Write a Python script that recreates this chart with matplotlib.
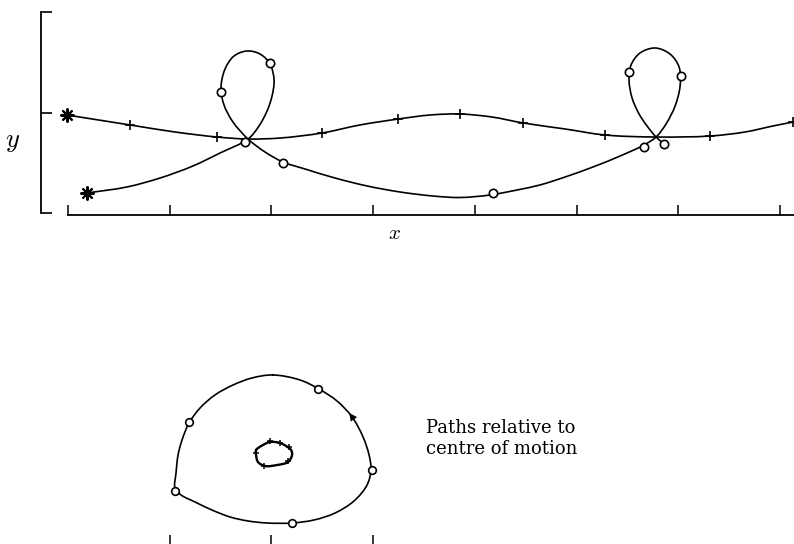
import matplotlib.pyplot as plt
import numpy as np
from matplotlib.path import Path
from matplotlib.patches import PathPatch

plt.rcParams['mathtext.fontset'] = 'cm'

# lighter body (+) in the lab frame, x/y in axis units
light_x = [-0.010, 0.610, 1.052, 1.465, 1.770, 2.085, 2.497, 2.871, 3.245, 3.559,
           3.854, 4.169, 4.474, 4.887, 5.280, 5.782, 6.313, 6.657, 6.932, 7.129]
light_y = [0.975, 0.876, 0.806, 0.756, 0.736, 0.746, 0.796, 0.876, 0.935, 0.975,
           0.985, 0.955, 0.896, 0.836, 0.776, 0.756, 0.766, 0.806, 0.866, 0.905]
light_mark_x = [0.61, 1.465, 2.497, 3.245, 3.854, 4.474, 5.280, 6.313, 7.129]
light_mark_y = [0.876, 0.756, 0.796, 0.935, 0.985, 0.896, 0.776, 0.766, 0.905]

# heavier body (o) in the lab frame, with its two loops
heavy_x = [0.187, 0.580, 0.905, 1.229, 1.495, 1.770, 1.878, 1.957, 2.006, 2.026,
           1.986, 1.888, 1.760, 1.632, 1.544, 1.504, 1.534, 1.622, 1.770, 1.937,
           2.114, 2.330, 2.625, 2.940, 3.264, 3.589, 3.854, 4.149, 4.415, 4.641,
           4.887, 5.162, 5.428, 5.664, 5.782, 5.880, 5.969, 6.018, 6.008, 5.919,
           5.772, 5.624, 5.536, 5.516, 5.546, 5.615, 5.693, 5.782, 5.860]
heavy_y = [0.199, 0.259, 0.348, 0.468, 0.597, 0.736, 0.866, 1.015, 1.164, 1.323,
           1.483, 1.582, 1.612, 1.562, 1.433, 1.244, 1.075, 0.905, 0.736, 0.607,
           0.507, 0.438, 0.348, 0.269, 0.209, 0.169, 0.154, 0.179, 0.229, 0.279,
           0.358, 0.458, 0.567, 0.677, 0.756, 0.886, 1.065, 1.264, 1.453, 1.582,
           1.642, 1.592, 1.473, 1.323, 1.144, 0.985, 0.866, 0.756, 0.687]
heavy_mark_x = [1.740, 1.986, 1.504, 2.114, 4.179, 5.664, 6.027, 5.516, 5.860]
heavy_mark_y = [0.706, 1.493, 1.204, 0.498, 0.199, 0.657, 1.363, 1.403, 0.687]

# starting positions
start_x = [-0.010, 0.187]
start_y = [0.975, 0.199]

# paths relative to the centre of motion (closed curves)
orbit_x = [2.016, 2.281, 2.468, 2.645, 2.793, 2.901, 2.960, 2.979, 2.940, 2.812,
           2.625, 2.419, 2.203, 1.957, 1.770, 1.593, 1.416, 1.249, 1.111, 1.052,
           1.062, 1.082, 1.121, 1.190, 1.298, 1.445, 1.622, 1.809]
orbit_y = [1.682, 1.632, 1.542, 1.423, 1.264, 1.065, 0.886, 0.736, 0.587, 0.428,
           0.308, 0.239, 0.209, 0.209, 0.229, 0.269, 0.338, 0.418, 0.488, 0.557,
           0.706, 0.886, 1.035, 1.204, 1.353, 1.483, 1.582, 1.652]
orbit_mark_x = [2.460, 2.989, 2.203, 1.052, 1.190]
orbit_mark_y = [1.542, 0.736, 0.209, 0.527, 1.214]

inner_x = [1.849, 1.917, 1.986, 2.085, 2.193, 2.203, 2.163, 2.055, 1.937, 1.868,
           1.849]
inner_y = [0.935, 0.985, 1.015, 1.005, 0.935, 0.886, 0.816, 0.786, 0.776, 0.816,
           0.886]
inner_mark_x = [1.986, 2.085, 2.173, 2.163, 1.927, 1.852]
inner_mark_y = [1.025, 1.005, 0.965, 0.826, 0.776, 0.905]

x_ticks = [0, 1, 2, 3, 4, 5, 6, 7]
y_ticks = [0, 1, 2]
lower_ticks = [1, 2, 3]


def smooth_path(xs, ys, closed=False):
    # centripetal Catmull-Rom through the points, as cubic Bezier segments
    pts = np.column_stack([xs, ys]).astype(float)
    if closed:
        ext = np.vstack([pts[-1:], pts, pts[:2]])
    else:
        ext = np.vstack([2 * pts[0] - pts[1], pts, 2 * pts[-1] - pts[-2]])
    verts = [ext[1]]
    codes = [Path.MOVETO]
    for i in range(1, len(ext) - 2):
        p0, p1, p2, p3 = ext[i - 1], ext[i], ext[i + 1], ext[i + 2]
        a1 = np.hypot(*(p1 - p0)) ** 0.5
        a2 = np.hypot(*(p2 - p1)) ** 0.5
        a3 = np.hypot(*(p3 - p2)) ** 0.5
        b1 = (a1 ** 2 * p2 - a2 ** 2 * p0
              + (2 * a1 ** 2 + 3 * a1 * a2 + a2 ** 2) * p1) / (3 * a1 * (a1 + a2))
        b2 = (a3 ** 2 * p1 - a2 ** 2 * p3
              + (2 * a3 ** 2 + 3 * a3 * a2 + a2 ** 2) * p2) / (3 * a3 * (a3 + a2))
        verts += [b1, b2, p2]
        codes += [Path.CURVE4] * 3
    return Path(verts, codes)


def draw_curve(ax, xs, ys, closed=False, **kw):
    patch = PathPatch(smooth_path(xs, ys, closed), facecolor='none',
                      edgecolor='k', capstyle='round', joinstyle='round', **kw)
    ax.add_patch(patch)


W, H = 794, 544
fig = plt.figure(figsize=(W / 100, H / 100), dpi=100)

lw = 1.2
xlim = (-0.2655, 7.138)

# --- motion in the lab frame ---
ax = fig.add_axes([41 / W, (H - 215) / H, (W - 41) / W, 205 / H])
ax.set_xlim(*xlim)
ax.set_ylim(-0.02, 2.02)

draw_curve(ax, light_x, light_y, lw=lw, clip_on=False)
draw_curve(ax, heavy_x, heavy_y, lw=lw)
ax.plot(light_mark_x, light_mark_y, ls='none', marker='+', ms=7, mew=1.2,
        color='k', clip_on=False)
ax.plot(heavy_mark_x, heavy_mark_y, ls='none', marker='o', ms=6, mew=1.2,
        mfc='white', mec='k')
ax.plot(start_x, start_y, ls='none', marker=(8, 2, 0), ms=10, mew=1.5,
        color='k')

for side in ['top', 'right']:
    ax.spines[side].set_visible(False)
ax.spines['left'].set_bounds(0, 2)
ax.spines['bottom'].set_bounds(0, xlim[1])
for side in ['left', 'bottom']:
    ax.spines[side].set_linewidth(1.3)
ax.set_xticks(x_ticks)
ax.set_yticks(y_ticks)
ax.tick_params(axis='y', direction='in', length=8, width=1.2,
               labelleft=False)
ax.tick_params(axis='x', direction='in', length=7, width=1.1,
               labelbottom=False)

fig.text(13 / W, 1 - 141 / H, '$y$', fontsize=19, ha='center', va='center')
fig.text(395 / W, 1 - 233 / H, '$x$', fontsize=15, ha='center', va='center')

# --- paths relative to centre of motion ---
ax2 = fig.add_axes([41 / W, 0, (W - 41) / W, 244 / H])
ax2.set_xlim(*xlim)
ax2.set_ylim(0, 2.428)
ax2.axis('off')

draw_curve(ax2, orbit_x, orbit_y, closed=True, lw=lw)
ax2.plot(orbit_mark_x, orbit_mark_y, ls='none', marker='o', ms=5.5, mew=1.2,
         mfc='white', mec='k')
ax2.annotate('', xy=(2.75, 1.325), xytext=(2.84, 1.2),
             arrowprops=dict(arrowstyle='-|>', color='k', lw=0,
                             mutation_scale=14))
draw_curve(ax2, inner_x, inner_y, closed=True, lw=1.7)
ax2.plot(inner_mark_x, inner_mark_y, ls='none', marker='+', ms=5, mew=1.1,
         color='k')
ax2.vlines(lower_ticks, -0.1, 0.09, color='k', lw=1.1, clip_on=False)

ax2.text(3.52, 1.24, 'Paths relative to\ncentre of motion', fontsize=13,
         family='DejaVu Serif', ha='left', va='top', linespacing=1.2)

plt.savefig('out.png', dpi=100)
plt.close()
